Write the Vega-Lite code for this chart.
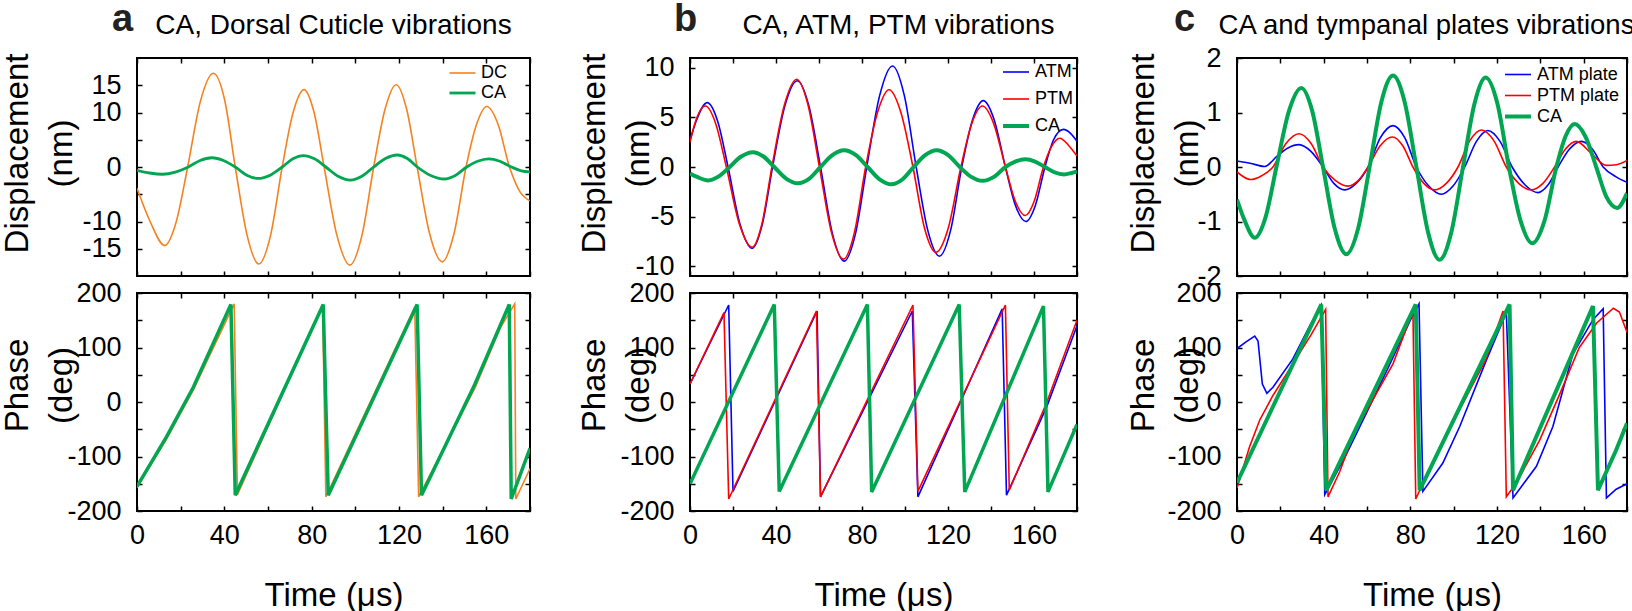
{
"$schema": "https://vega.github.io/schema/vega-lite/v6.json",
"background": "white",
"padding": 0,
"columns": 3,
"bounds": "flush",
"spacing": {"row": 17, "column": 160},
"resolve": {"scale": {"color": "independent", "strokeWidth": "independent", "x": "independent", "y": "independent"}},
"config": {
 "font": "Liberation Sans",
 "view": {"stroke": "black", "strokeWidth": 2},
 "axis": {"grid": false, "domain": false, "tickSize": -5, "tickColor": "black", "tickWidth": 1.5, "labelFontSize": 27, "labelColor": "black", "labelFont": "Liberation Sans", "labelFlush": false, "labelOverlap": false, "titleFontSize": 33, "titleFontWeight": "normal", "titleColor": "black", "titleFont": "Liberation Sans"},
 "axisX": {"labelPadding": 16},
 "axisY": {"labelPadding": 21},
 "title": {"color": "black", "fontWeight": "normal", "font": "Liberation Sans"},
 "legend": {"labelColor": "black", "labelFont": "Liberation Sans"}
},
"datasets": {
"aDisp": [
{"s":"DC","t":0,"v":-3.9},{"s":"DC","t":6,"v":-10},{"s":"DC","t":12.7,"v":-14.4},{"s":"DC","t":18,"v":-10},{"s":"DC","t":23.2,"v":0},{"s":"DC","t":29,"v":12},{"s":"DC","t":35,"v":17.2},{"s":"DC","t":40.2,"v":12.2},{"s":"DC","t":45,"v":0},{"s":"DC","t":50.4,"v":-12.5},{"s":"DC","t":55.8,"v":-17.8},{"s":"DC","t":61.2,"v":-12.5},{"s":"DC","t":66.5,"v":0},{"s":"DC","t":71.5,"v":10},{"s":"DC","t":76.5,"v":14.2},{"s":"DC","t":81.1,"v":10},{"s":"DC","t":85.7,"v":0},{"s":"DC","t":91.6,"v":-12.6},{"s":"DC","t":97.5,"v":-18},{"s":"DC","t":103,"v":-12.6},{"s":"DC","t":108.4,"v":0},{"s":"DC","t":113.6,"v":10.6},{"s":"DC","t":118.7,"v":15.1},{"s":"DC","t":123.5,"v":10.6},{"s":"DC","t":128.3,"v":0},{"s":"DC","t":134,"v":-12.2},{"s":"DC","t":139.8,"v":-17.4},{"s":"DC","t":145.2,"v":-12.2},{"s":"DC","t":150.7,"v":0},{"s":"DC","t":155.5,"v":7.8},{"s":"DC","t":160.2,"v":11.1},{"s":"DC","t":165.4,"v":7.8},{"s":"DC","t":170.6,"v":0},{"s":"DC","t":175.5,"v":-4.6},{"s":"DC","t":180,"v":-6.2},
{"s":"CA","t":0,"v":-0.6},{"s":"CA","t":5.8,"v":-1.1},{"s":"CA","t":11.7,"v":-1.33},{"s":"CA","t":17.6,"v":-0.94},{"s":"CA","t":23.5,"v":0},{"s":"CA","t":28.9,"v":1.2},{"s":"CA","t":34.3,"v":1.7},{"s":"CA","t":39.6,"v":1.2},{"s":"CA","t":45,"v":0},{"s":"CA","t":50.3,"v":-1.5},{"s":"CA","t":55.5,"v":-2.1},{"s":"CA","t":61,"v":-1.5},{"s":"CA","t":66.5,"v":0},{"s":"CA","t":71.4,"v":1.5},{"s":"CA","t":76.2,"v":2.1},{"s":"CA","t":81.3,"v":1.5},{"s":"CA","t":86.5,"v":0},{"s":"CA","t":92.1,"v":-1.7},{"s":"CA","t":97.7,"v":-2.4},{"s":"CA","t":103,"v":-1.7},{"s":"CA","t":108.4,"v":0},{"s":"CA","t":113.8,"v":1.55},{"s":"CA","t":119.2,"v":2.2},{"s":"CA","t":123.8,"v":1.55},{"s":"CA","t":128.4,"v":0},{"s":"CA","t":134.5,"v":-1.55},{"s":"CA","t":140.7,"v":-2.2},{"s":"CA","t":145.8,"v":-1.55},{"s":"CA","t":151,"v":0},{"s":"CA","t":156,"v":1.05},{"s":"CA","t":161,"v":1.5},{"s":"CA","t":166.2,"v":1.06},{"s":"CA","t":171.5,"v":0},{"s":"CA","t":176,"v":-0.7},{"s":"CA","t":180,"v":-0.9}
],
"aPhase": [
{"s":"DC","t":0,"v":-157},{"s":"DC","t":13.5,"v":-68},{"s":"DC","t":25.8,"v":22},{"s":"DC","t":44.5,"v":180},{"s":"DC","t":46,"v":-170},{"s":"DC","t":85,"v":178},{"s":"DC","t":86.5,"v":-174},{"s":"DC","t":127.2,"v":174},{"s":"DC","t":129,"v":-174},{"s":"DC","t":154.8,"v":26},{"s":"DC","t":166.4,"v":136},{"s":"DC","t":173,"v":180},{"s":"DC","t":173.5,"v":-178},{"s":"DC","t":180,"v":-122},
{"s":"CA","t":0,"v":-155},{"s":"CA","t":13.5,"v":-64},{"s":"CA","t":25.8,"v":27},{"s":"CA","t":43,"v":179},{"s":"CA","t":45,"v":-171},{"s":"CA","t":85.3,"v":179},{"s":"CA","t":87.6,"v":-171},{"s":"CA","t":128.3,"v":179},{"s":"CA","t":130.3,"v":-171},{"s":"CA","t":154.8,"v":33},{"s":"CA","t":170.5,"v":179},{"s":"CA","t":171.4,"v":-178},{"s":"CA","t":180,"v":-85}
],
"bDisp": [
{"s":"ATM","t":0,"v":2.7},{"s":"ATM","t":2.8,"v":4.6},{"s":"ATM","t":8,"v":6.5},{"s":"ATM","t":12.9,"v":4.6},{"s":"ATM","t":17.7,"v":0},{"s":"ATM","t":23.3,"v":-5.8},{"s":"ATM","t":28.9,"v":-8.2},{"s":"ATM","t":33.6,"v":-5.8},{"s":"ATM","t":38.4,"v":0},{"s":"ATM","t":44.1,"v":6.15},{"s":"ATM","t":49.9,"v":8.7},{"s":"ATM","t":55.3,"v":6.15},{"s":"ATM","t":60.7,"v":0},{"s":"ATM","t":66.2,"v":-6.7},{"s":"ATM","t":71.7,"v":-9.5},{"s":"ATM","t":77,"v":-6.7},{"s":"ATM","t":82.2,"v":0},{"s":"ATM","t":88.2,"v":7.2},{"s":"ATM","t":94.2,"v":10.2},{"s":"ATM","t":99.7,"v":7.2},{"s":"ATM","t":105.2,"v":0},{"s":"ATM","t":110.6,"v":-6.4},{"s":"ATM","t":116,"v":-9},{"s":"ATM","t":121.2,"v":-6.4},{"s":"ATM","t":126.4,"v":0},{"s":"ATM","t":131.4,"v":4.75},{"s":"ATM","t":136.4,"v":6.7},{"s":"ATM","t":141.5,"v":4.75},{"s":"ATM","t":146.7,"v":0},{"s":"ATM","t":151.4,"v":-3.9},{"s":"ATM","t":156.2,"v":-5.5},{"s":"ATM","t":160.6,"v":-3.9},{"s":"ATM","t":165.1,"v":0},{"s":"ATM","t":169,"v":2.7},{"s":"ATM","t":173.7,"v":3.8},{"s":"ATM","t":177,"v":3.4},{"s":"ATM","t":180,"v":2.6},
{"s":"PTM","t":0,"v":2.5},{"s":"PTM","t":2.2,"v":4.35},{"s":"PTM","t":7.2,"v":6.15},{"s":"PTM","t":12,"v":4.35},{"s":"PTM","t":16.9,"v":0},{"s":"PTM","t":22.9,"v":-5.7},{"s":"PTM","t":28.9,"v":-8.1},{"s":"PTM","t":33.5,"v":-5.7},{"s":"PTM","t":38.1,"v":0},{"s":"PTM","t":43.9,"v":6.25},{"s":"PTM","t":49.6,"v":8.85},{"s":"PTM","t":54.9,"v":6.25},{"s":"PTM","t":60.2,"v":0},{"s":"PTM","t":65.8,"v":-6.6},{"s":"PTM","t":71.4,"v":-9.3},{"s":"PTM","t":76.5,"v":-6.6},{"s":"PTM","t":81.7,"v":0},{"s":"PTM","t":87.2,"v":5.5},{"s":"PTM","t":92.6,"v":7.8},{"s":"PTM","t":98.1,"v":5.5},{"s":"PTM","t":103.7,"v":0},{"s":"PTM","t":109,"v":-6.1},{"s":"PTM","t":114.4,"v":-8.6},{"s":"PTM","t":120.2,"v":-6.1},{"s":"PTM","t":126,"v":0},{"s":"PTM","t":131,"v":4.35},{"s":"PTM","t":136,"v":6.15},{"s":"PTM","t":141.3,"v":4.35},{"s":"PTM","t":146.7,"v":0},{"s":"PTM","t":151.3,"v":-3.45},{"s":"PTM","t":155.9,"v":-4.9},{"s":"PTM","t":160.1,"v":-3.45},{"s":"PTM","t":164.4,"v":0},{"s":"PTM","t":168,"v":2},{"s":"PTM","t":172,"v":2.9},{"s":"PTM","t":176,"v":2.2},{"s":"PTM","t":180,"v":1.1},
{"s":"CA","t":0,"v":-0.65},{"s":"CA","t":3,"v":-0.97},{"s":"CA","t":8.4,"v":-1.35},{"s":"CA","t":13.4,"v":-0.95},{"s":"CA","t":18.4,"v":0},{"s":"CA","t":23.8,"v":1.06},{"s":"CA","t":29.2,"v":1.5},{"s":"CA","t":34.2,"v":1.06},{"s":"CA","t":39.2,"v":0},{"s":"CA","t":44.7,"v":-1.17},{"s":"CA","t":50.2,"v":-1.65},{"s":"CA","t":55.5,"v":-1.17},{"s":"CA","t":60.7,"v":0},{"s":"CA","t":66.2,"v":1.2},{"s":"CA","t":71.7,"v":1.7},{"s":"CA","t":77.2,"v":1.2},{"s":"CA","t":82.6,"v":0},{"s":"CA","t":88.2,"v":-1.24},{"s":"CA","t":93.7,"v":-1.75},{"s":"CA","t":98.9,"v":-1.24},{"s":"CA","t":104,"v":0},{"s":"CA","t":109.4,"v":1.2},{"s":"CA","t":114.7,"v":1.7},{"s":"CA","t":120.1,"v":1.2},{"s":"CA","t":125.5,"v":0},{"s":"CA","t":130.8,"v":-1},{"s":"CA","t":136,"v":-1.4},{"s":"CA","t":141.4,"v":-1},{"s":"CA","t":146.7,"v":0},{"s":"CA","t":151.3,"v":0.55},{"s":"CA","t":155.9,"v":0.77},{"s":"CA","t":160.5,"v":0.55},{"s":"CA","t":165.1,"v":0},{"s":"CA","t":169.5,"v":-0.53},{"s":"CA","t":174,"v":-0.75},{"s":"CA","t":177.5,"v":-0.6},{"s":"CA","t":180,"v":-0.45}
],
"bPhase": [
{"s":"ATM","t":0,"v":33},{"s":"ATM","t":18,"v":178},{"s":"ATM","t":20,"v":-164},{"s":"ATM","t":59.1,"v":167},{"s":"ATM","t":60.7,"v":-174},{"s":"ATM","t":103.4,"v":167},{"s":"ATM","t":106,"v":-174},{"s":"ATM","t":145.2,"v":171},{"s":"ATM","t":147.2,"v":-171},{"s":"ATM","t":166,"v":-8},{"s":"ATM","t":180,"v":140},
{"s":"PTM","t":0,"v":33},{"s":"PTM","t":15.8,"v":164},{"s":"PTM","t":18,"v":-178},{"s":"PTM","t":58.8,"v":167},{"s":"PTM","t":60.7,"v":-174},{"s":"PTM","t":103.7,"v":178},{"s":"PTM","t":106,"v":-164},{"s":"PTM","t":146.7,"v":178},{"s":"PTM","t":148.5,"v":-162},{"s":"PTM","t":166,"v":0},{"s":"PTM","t":180,"v":150},
{"s":"CA","t":0,"v":-150},{"s":"CA","t":39.2,"v":179},{"s":"CA","t":41.5,"v":-164},{"s":"CA","t":82.5,"v":179},{"s":"CA","t":84.5,"v":-165},{"s":"CA","t":125.2,"v":179},{"s":"CA","t":127.8,"v":-165},{"s":"CA","t":164.4,"v":176},{"s":"CA","t":166.5,"v":-165},{"s":"CA","t":180,"v":-41}
],
"cDisp": [
{"s":"ATM plate","t":0,"v":0.11},{"s":"ATM plate","t":6,"v":0.07},{"s":"ATM plate","t":12.8,"v":0.01},{"s":"ATM plate","t":18.5,"v":0.2},{"s":"ATM plate","t":23.5,"v":0.35},{"s":"ATM plate","t":28.6,"v":0.41},{"s":"ATM plate","t":34,"v":0.29},{"s":"ATM plate","t":39.7,"v":0},{"s":"ATM plate","t":44.7,"v":-0.3},{"s":"ATM plate","t":49.7,"v":-0.42},{"s":"ATM plate","t":55,"v":-0.3},{"s":"ATM plate","t":60.5,"v":0},{"s":"ATM plate","t":66.2,"v":0.54},{"s":"ATM plate","t":72,"v":0.76},{"s":"ATM plate","t":77.4,"v":0.54},{"s":"ATM plate","t":82.8,"v":0},{"s":"ATM plate","t":88.5,"v":-0.35},{"s":"ATM plate","t":94.3,"v":-0.5},{"s":"ATM plate","t":99.7,"v":-0.35},{"s":"ATM plate","t":105.1,"v":0},{"s":"ATM plate","t":110.5,"v":0.47},{"s":"ATM plate","t":115.8,"v":0.67},{"s":"ATM plate","t":121.4,"v":0.47},{"s":"ATM plate","t":127,"v":0},{"s":"ATM plate","t":133,"v":-0.33},{"s":"ATM plate","t":138.9,"v":-0.47},{"s":"ATM plate","t":143.5,"v":-0.33},{"s":"ATM plate","t":148.2,"v":0},{"s":"ATM plate","t":153.5,"v":0.33},{"s":"ATM plate","t":158.9,"v":0.47},{"s":"ATM plate","t":164,"v":0.33},{"s":"ATM plate","t":169,"v":0},{"s":"ATM plate","t":175,"v":-0.18},{"s":"ATM plate","t":180,"v":-0.28},
{"s":"PTM plate","t":0,"v":-0.09},{"s":"PTM plate","t":3,"v":-0.18},{"s":"PTM plate","t":6.2,"v":-0.23},{"s":"PTM plate","t":11.4,"v":-0.16},{"s":"PTM plate","t":16.6,"v":0},{"s":"PTM plate","t":22.6,"v":0.43},{"s":"PTM plate","t":28.6,"v":0.61},{"s":"PTM plate","t":34.2,"v":0.43},{"s":"PTM plate","t":39.7,"v":0},{"s":"PTM plate","t":45.5,"v":-0.25},{"s":"PTM plate","t":51.2,"v":-0.35},{"s":"PTM plate","t":55.9,"v":-0.25},{"s":"PTM plate","t":60.5,"v":0},{"s":"PTM plate","t":66.1,"v":0.39},{"s":"PTM plate","t":71.7,"v":0.55},{"s":"PTM plate","t":76.5,"v":0.39},{"s":"PTM plate","t":81.2,"v":0},{"s":"PTM plate","t":86.2,"v":-0.3},{"s":"PTM plate","t":91.2,"v":-0.42},{"s":"PTM plate","t":96.6,"v":-0.3},{"s":"PTM plate","t":102,"v":0},{"s":"PTM plate","t":107.4,"v":0.48},{"s":"PTM plate","t":112.8,"v":0.68},{"s":"PTM plate","t":118.6,"v":0.48},{"s":"PTM plate","t":124.3,"v":0},{"s":"PTM plate","t":130,"v":-0.3},{"s":"PTM plate","t":135.8,"v":-0.42},{"s":"PTM plate","t":141.2,"v":-0.3},{"s":"PTM plate","t":146.6,"v":0},{"s":"PTM plate","t":151.6,"v":0.33},{"s":"PTM plate","t":156.6,"v":0.47},{"s":"PTM plate","t":163.5,"v":0.25},{"s":"PTM plate","t":170.5,"v":0.03},{"s":"PTM plate","t":175,"v":0.04},{"s":"PTM plate","t":180,"v":0.12},
{"s":"CA","t":0,"v":-0.6},{"s":"CA","t":3.5,"v":-0.98},{"s":"CA","t":8.2,"v":-1.3},{"s":"CA","t":13.2,"v":-0.92},{"s":"CA","t":18.2,"v":0},{"s":"CA","t":24,"v":1.03},{"s":"CA","t":29.7,"v":1.45},{"s":"CA","t":34.7,"v":1.03},{"s":"CA","t":39.7,"v":0},{"s":"CA","t":45.1,"v":-1.13},{"s":"CA","t":50.5,"v":-1.6},{"s":"CA","t":55.9,"v":-1.13},{"s":"CA","t":61.2,"v":0},{"s":"CA","t":66.6,"v":1.19},{"s":"CA","t":72,"v":1.68},{"s":"CA","t":77.4,"v":1.19},{"s":"CA","t":82.8,"v":0},{"s":"CA","t":88.2,"v":-1.2},{"s":"CA","t":93.5,"v":-1.7},{"s":"CA","t":98.9,"v":-1.2},{"s":"CA","t":104.3,"v":0},{"s":"CA","t":109.6,"v":1.16},{"s":"CA","t":114.8,"v":1.64},{"s":"CA","t":120.2,"v":1.16},{"s":"CA","t":125.5,"v":0},{"s":"CA","t":130.9,"v":-0.99},{"s":"CA","t":136.3,"v":-1.4},{"s":"CA","t":141.9,"v":-0.99},{"s":"CA","t":147.4,"v":0},{"s":"CA","t":151.6,"v":0.56},{"s":"CA","t":155.8,"v":0.79},{"s":"CA","t":160.8,"v":0.56},{"s":"CA","t":165.8,"v":0},{"s":"CA","t":170.5,"v":-0.55},{"s":"CA","t":175.5,"v":-0.75},{"s":"CA","t":180,"v":-0.48}
],
"cPhase": [
{"s":"ATM plate","t":0,"v":98},{"s":"ATM plate","t":4,"v":110},{"s":"ATM plate","t":8.2,"v":121},{"s":"ATM plate","t":9.7,"v":112},{"s":"ATM plate","t":11.7,"v":33},{"s":"ATM plate","t":13.8,"v":16},{"s":"ATM plate","t":16.6,"v":27},{"s":"ATM plate","t":25.8,"v":79},{"s":"ATM plate","t":33.5,"v":139},{"s":"ATM plate","t":38.9,"v":178},{"s":"ATM plate","t":40.5,"v":-170},{"s":"ATM plate","t":50,"v":-100},{"s":"ATM plate","t":60,"v":-18},{"s":"ATM plate","t":70,"v":65},{"s":"ATM plate","t":80,"v":150},{"s":"ATM plate","t":84,"v":180},{"s":"ATM plate","t":85.8,"v":-164},{"s":"ATM plate","t":95,"v":-112},{"s":"ATM plate","t":102.8,"v":-45},{"s":"ATM plate","t":115,"v":76},{"s":"ATM plate","t":124.3,"v":164},{"s":"ATM plate","t":127.4,"v":-176},{"s":"ATM plate","t":138.2,"v":-118},{"s":"ATM plate","t":145.8,"v":-45},{"s":"ATM plate","t":155,"v":88},{"s":"ATM plate","t":164.3,"v":151},{"s":"ATM plate","t":169,"v":171},{"s":"ATM plate","t":170.5,"v":-176},{"s":"ATM plate","t":175,"v":-160},{"s":"ATM plate","t":180,"v":-150},
{"s":"PTM plate","t":0,"v":-158},{"s":"PTM plate","t":5.8,"v":-82},{"s":"PTM plate","t":10.5,"v":-33},{"s":"PTM plate","t":16.6,"v":12},{"s":"PTM plate","t":25.8,"v":70},{"s":"PTM plate","t":34.3,"v":124},{"s":"PTM plate","t":40.9,"v":170},{"s":"PTM plate","t":42,"v":-174},{"s":"PTM plate","t":47.4,"v":-128},{"s":"PTM plate","t":53.5,"v":-62},{"s":"PTM plate","t":62.8,"v":5},{"s":"PTM plate","t":72,"v":70},{"s":"PTM plate","t":81.2,"v":167},{"s":"PTM plate","t":82.5,"v":-178},{"s":"PTM plate","t":87.4,"v":-136},{"s":"PTM plate","t":96.6,"v":-58},{"s":"PTM plate","t":105.8,"v":9},{"s":"PTM plate","t":115,"v":79},{"s":"PTM plate","t":122.8,"v":167},{"s":"PTM plate","t":124.3,"v":-174},{"s":"PTM plate","t":129,"v":-148},{"s":"PTM plate","t":139.7,"v":-70},{"s":"PTM plate","t":149,"v":15},{"s":"PTM plate","t":158,"v":100},{"s":"PTM plate","t":166,"v":145},{"s":"PTM plate","t":173.7,"v":172},{"s":"PTM plate","t":176.5,"v":165},{"s":"PTM plate","t":180,"v":128},
{"s":"CA","t":0,"v":-148},{"s":"CA","t":38.9,"v":179},{"s":"CA","t":41.2,"v":-162},{"s":"CA","t":82.5,"v":179},{"s":"CA","t":84.3,"v":-162},{"s":"CA","t":125.8,"v":179},{"s":"CA","t":127.4,"v":-162},{"s":"CA","t":164.3,"v":176},{"s":"CA","t":166.6,"v":-162},{"s":"CA","t":175,"v":-88},{"s":"CA","t":180,"v":-39}
]
},
"concat": [
  {
   "width": 393, "height": 218,
   "title": {"text": "a", "fontSize": 38, "fontWeight": "bold", "color": "#222222", "anchor": "start", "frame": "group", "baseline": "alphabetic", "offset": 0, "dx": -25, "dy": 58},
   "data": {"name": "aDisp"},
   "layer": [
    {"mark": {"type": "line", "interpolate": "monotone", "clip": true},
     "encoding": {
      "x": {"field": "t", "type": "quantitative", "scale": {"domain": [0, 180], "nice": false, "zero": false}, "axis": {"orient": "bottom", "values": [0,20,40,60,80,100,120,140,160,180], "labels": false, "title": null}},
      "y": {"field": "v", "type": "quantitative", "scale": {"domain": [-20, 20], "nice": false, "zero": false}, "axis": {"orient": "left", "values": [-15,-10,-5,0,5,10,15], "labelExpr": "abs(datum.value) == 5 ? '' : toString(datum.value)", "title": ["Displacement", "(nm)"], "titleAngle": -90, "titleAlign": "center", "titleBaseline": "bottom", "titleLineHeight": 44, "titleX": -103, "titleY": 95}},
      "color": {"field": "s", "type": "nominal", "scale": {"domain": ["DC", "CA"], "range": ["#F5821F", "#00A651"]}, "legend": {"orient": "none", "legendX": 311, "legendY": 5, "title": null, "labelFontSize": 18, "symbolSize": 676, "symbolType": "stroke", "rowPadding": 0, "clipHeight": 20, "labelOffset": 4, "padding": 0}},
      "strokeWidth": {"field": "s", "type": "nominal", "scale": {"type": "ordinal", "domain": ["DC", "CA"], "range": [1.6, 2.8]}, "legend": {"orient": "none", "legendX": 311, "legendY": 5, "title": null, "labelFontSize": 18, "symbolSize": 676, "symbolType": "stroke", "rowPadding": 0, "clipHeight": 20, "labelOffset": 4, "padding": 0}}
     }},
    {"mark": {"type": "line", "opacity": 0},
     "encoding": {
      "x": {"field": "t", "type": "quantitative", "axis": {"orient": "top", "values": [0,20,40,60,80,100,120,140,160,180], "labels": false, "title": "CA,  Dorsal Cuticle vibrations", "titleFontSize": 28, "titleBaseline": "alphabetic", "titleAlign": "center", "titleX": 196, "titleY": -25}},
      "y": {"field": "v", "type": "quantitative", "axis": {"orient": "right", "values": [-15,-10,-5,0,5,10,15], "labels": false, "title": null}},
      "detail": {"field": "s"}
     }}
   ],
   "resolve": {"axis": {"x": "independent", "y": "independent"}}
  },
  {
   "width": 387, "height": 218,
   "title": {"text": "b", "fontSize": 38, "fontWeight": "bold", "color": "#222222", "anchor": "start", "frame": "group", "baseline": "alphabetic", "offset": 0, "dx": -16, "dy": 58},
   "data": {"name": "bDisp"},
   "layer": [
    {"mark": {"type": "line", "interpolate": "monotone", "clip": true},
     "encoding": {
      "x": {"field": "t", "type": "quantitative", "scale": {"domain": [0, 180], "nice": false, "zero": false}, "axis": {"orient": "bottom", "values": [0,20,40,60,80,100,120,140,160,180], "labels": false, "title": null}},
      "y": {"field": "v", "type": "quantitative", "scale": {"domain": [-11, 11], "nice": false, "zero": false}, "axis": {"orient": "left", "values": [-10,-5,0,5,10], "labelExpr": "toString(datum.value)", "title": ["Displacement", "(nm)"], "titleAngle": -90, "titleAlign": "center", "titleBaseline": "bottom", "titleLineHeight": 44, "titleX": -79, "titleY": 95}},
      "color": {"field": "s", "type": "nominal", "scale": {"domain": ["ATM", "PTM", "CA"], "range": ["#0000FF", "#FF0000", "#00A651"]}, "legend": {"orient": "none", "legendX": 311, "legendY": 1, "title": null, "labelFontSize": 18, "symbolSize": 676, "symbolType": "stroke", "rowPadding": 1, "clipHeight": 26, "labelOffset": 4, "padding": 0}},
      "strokeWidth": {"field": "s", "type": "nominal", "scale": {"type": "ordinal", "domain": ["ATM", "PTM", "CA"], "range": [1.6, 1.6, 4]}, "legend": {"orient": "none", "legendX": 311, "legendY": 1, "title": null, "labelFontSize": 18, "symbolSize": 676, "symbolType": "stroke", "rowPadding": 1, "clipHeight": 26, "labelOffset": 4, "padding": 0}}
     }},
    {"mark": {"type": "line", "opacity": 0},
     "encoding": {
      "x": {"field": "t", "type": "quantitative", "axis": {"orient": "top", "values": [0,20,40,60,80,100,120,140,160,180], "labels": false, "title": "CA, ATM, PTM vibrations", "titleFontSize": 28, "titleBaseline": "alphabetic", "titleAlign": "center", "titleX": 208, "titleY": -25}},
      "y": {"field": "v", "type": "quantitative", "axis": {"orient": "right", "values": [-10,-5,0,5,10], "labels": false, "title": null}},
      "detail": {"field": "s"}
     }}
   ],
   "resolve": {"axis": {"x": "independent", "y": "independent"}}
  },
  {
   "width": 390, "height": 218,
   "title": {"text": "c", "fontSize": 38, "fontWeight": "bold", "color": "#222222", "anchor": "start", "frame": "group", "baseline": "alphabetic", "offset": 0, "dx": -63, "dy": 58},
   "data": {"name": "cDisp"},
   "layer": [
    {"mark": {"type": "line", "interpolate": "monotone", "clip": true},
     "encoding": {
      "x": {"field": "t", "type": "quantitative", "scale": {"domain": [0, 180], "nice": false, "zero": false}, "axis": {"orient": "bottom", "values": [0,20,40,60,80,100,120,140,160,180], "labels": false, "title": null}},
      "y": {"field": "v", "type": "quantitative", "scale": {"domain": [-2, 2], "nice": false, "zero": false}, "axis": {"orient": "left", "values": [-2,-1,0,1,2], "labelExpr": "toString(datum.value)", "title": ["Displacement", "(nm)"], "titleAngle": -90, "titleAlign": "center", "titleBaseline": "bottom", "titleLineHeight": 44, "titleX": -77, "titleY": 95}},
      "color": {"field": "s", "type": "nominal", "scale": {"domain": ["ATM plate", "PTM plate", "CA"], "range": ["#0000FF", "#FF0000", "#00A651"]}, "legend": {"orient": "none", "legendX": 266, "legendY": 6, "title": null, "labelFontSize": 18, "symbolSize": 676, "symbolType": "stroke", "rowPadding": 0, "clipHeight": 21, "labelOffset": 4, "padding": 0}},
      "strokeWidth": {"field": "s", "type": "nominal", "scale": {"type": "ordinal", "domain": ["ATM plate", "PTM plate", "CA"], "range": [1.6, 1.6, 4]}, "legend": {"orient": "none", "legendX": 266, "legendY": 6, "title": null, "labelFontSize": 18, "symbolSize": 676, "symbolType": "stroke", "rowPadding": 0, "clipHeight": 21, "labelOffset": 4, "padding": 0}}
     }},
    {"mark": {"type": "line", "opacity": 0},
     "encoding": {
      "x": {"field": "t", "type": "quantitative", "axis": {"orient": "top", "values": [0,20,40,60,80,100,120,140,160,180], "labels": false, "title": "CA and tympanal plates vibrations", "titleFontSize": 27.5, "titleBaseline": "alphabetic", "titleAlign": "center", "titleX": 189, "titleY": -25}},
      "y": {"field": "v", "type": "quantitative", "axis": {"orient": "right", "values": [-2,-1,0,1,2], "labels": false, "title": null}},
      "detail": {"field": "s"}
     }}
   ],
   "resolve": {"axis": {"x": "independent", "y": "independent"}}
  },
  {
   "width": 393, "height": 218,
   "data": {"name": "aPhase"},
   "layer": [
    {"mark": {"type": "line", "clip": true},
     "encoding": {
      "x": {"field": "t", "type": "quantitative", "scale": {"domain": [0, 180], "nice": false, "zero": false}, "axis": {"orient": "bottom", "values": [0,20,40,60,80,100,120,140,160,180], "labelExpr": "datum.value % 40 == 0 ? datum.label : ''", "title": "Time (μs)", "titleY": 94, "titleBaseline": "alphabetic"}},
      "y": {"field": "v", "type": "quantitative", "scale": {"domain": [-200, 200], "nice": false, "zero": false}, "axis": {"orient": "left", "values": [-200,-150,-100,-50,0,50,100,150,200], "labelExpr": "datum.value % 100 == 0 ? toString(datum.value) : ''", "title": ["Phase", "(deg)"], "titleAngle": -90, "titleAlign": "center", "titleBaseline": "bottom", "titleLineHeight": 44, "titleX": -103, "titleY": 92}},
      "color": {"field": "s", "type": "nominal", "scale": {"domain": ["DC", "CA"], "range": ["#F5821F", "#00A651"]}, "legend": null},
      "strokeWidth": {"field": "s", "type": "nominal", "scale": {"type": "ordinal", "domain": ["DC", "CA"], "range": [1.6, 3.5]}, "legend": null}
     }},
    {"mark": {"type": "line", "opacity": 0},
     "encoding": {
      "x": {"field": "t", "type": "quantitative", "axis": {"orient": "top", "values": [0,20,40,60,80,100,120,140,160,180], "labels": false, "title": null}},
      "y": {"field": "v", "type": "quantitative", "axis": {"orient": "right", "values": [-200,-150,-100,-50,0,50,100,150,200], "labels": false, "title": null}},
      "detail": {"field": "s"}
     }}
   ],
   "resolve": {"axis": {"x": "independent", "y": "independent"}}
  },
  {
   "width": 387, "height": 218,
   "data": {"name": "bPhase"},
   "layer": [
    {"mark": {"type": "line", "clip": true},
     "encoding": {
      "x": {"field": "t", "type": "quantitative", "scale": {"domain": [0, 180], "nice": false, "zero": false}, "axis": {"orient": "bottom", "values": [0,20,40,60,80,100,120,140,160,180], "labelExpr": "datum.value % 40 == 0 ? datum.label : ''", "title": "Time (μs)", "titleY": 94, "titleBaseline": "alphabetic"}},
      "y": {"field": "v", "type": "quantitative", "scale": {"domain": [-200, 200], "nice": false, "zero": false}, "axis": {"orient": "left", "values": [-200,-150,-100,-50,0,50,100,150,200], "labelExpr": "datum.value % 100 == 0 ? toString(datum.value) : ''", "title": ["Phase", "(deg)"], "titleAngle": -90, "titleAlign": "center", "titleBaseline": "bottom", "titleLineHeight": 44, "titleX": -79, "titleY": 92}},
      "color": {"field": "s", "type": "nominal", "scale": {"domain": ["ATM", "PTM", "CA"], "range": ["#0000FF", "#FF0000", "#00A651"]}, "legend": null},
      "strokeWidth": {"field": "s", "type": "nominal", "scale": {"type": "ordinal", "domain": ["ATM", "PTM", "CA"], "range": [1.6, 1.6, 3.5]}, "legend": null}
     }},
    {"mark": {"type": "line", "opacity": 0},
     "encoding": {
      "x": {"field": "t", "type": "quantitative", "axis": {"orient": "top", "values": [0,20,40,60,80,100,120,140,160,180], "labels": false, "title": null}},
      "y": {"field": "v", "type": "quantitative", "axis": {"orient": "right", "values": [-200,-150,-100,-50,0,50,100,150,200], "labels": false, "title": null}},
      "detail": {"field": "s"}
     }}
   ],
   "resolve": {"axis": {"x": "independent", "y": "independent"}}
  },
  {
   "width": 390, "height": 218,
   "data": {"name": "cPhase"},
   "layer": [
    {"mark": {"type": "line", "clip": true},
     "encoding": {
      "x": {"field": "t", "type": "quantitative", "scale": {"domain": [0, 180], "nice": false, "zero": false}, "axis": {"orient": "bottom", "values": [0,20,40,60,80,100,120,140,160,180], "labelExpr": "datum.value % 40 == 0 ? datum.label : ''", "title": "Time (μs)", "titleY": 94, "titleBaseline": "alphabetic"}},
      "y": {"field": "v", "type": "quantitative", "scale": {"domain": [-200, 200], "nice": false, "zero": false}, "axis": {"orient": "left", "values": [-200,-150,-100,-50,0,50,100,150,200], "labelExpr": "datum.value % 100 == 0 ? toString(datum.value) : ''", "title": ["Phase", "(deg)"], "titleAngle": -90, "titleAlign": "center", "titleBaseline": "bottom", "titleLineHeight": 44, "titleX": -77, "titleY": 92}},
      "color": {"field": "s", "type": "nominal", "scale": {"domain": ["ATM plate", "PTM plate", "CA"], "range": ["#0000FF", "#FF0000", "#00A651"]}, "legend": null},
      "strokeWidth": {"field": "s", "type": "nominal", "scale": {"type": "ordinal", "domain": ["ATM plate", "PTM plate", "CA"], "range": [1.6, 1.6, 4]}, "legend": null}
     }},
    {"mark": {"type": "line", "opacity": 0},
     "encoding": {
      "x": {"field": "t", "type": "quantitative", "axis": {"orient": "top", "values": [0,20,40,60,80,100,120,140,160,180], "labels": false, "title": null}},
      "y": {"field": "v", "type": "quantitative", "axis": {"orient": "right", "values": [-200,-150,-100,-50,0,50,100,150,200], "labels": false, "title": null}},
      "detail": {"field": "s"}
     }}
   ],
   "resolve": {"axis": {"x": "independent", "y": "independent"}}
  }
]
}
